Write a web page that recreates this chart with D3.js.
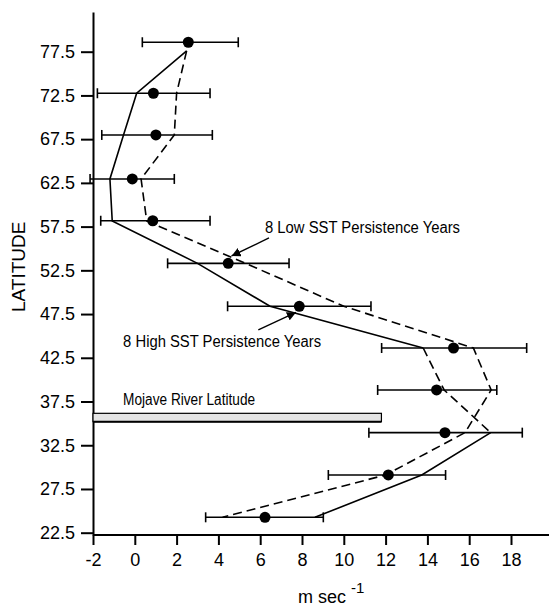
<!DOCTYPE html>
<html><head><meta charset="utf-8">
<script src="https://cdn.jsdelivr.net/npm/d3@7"></script>
<style>html,body{margin:0;padding:0;background:#fff;}svg{display:block;font-family:"Liberation Sans",Arial,Helvetica,sans-serif;}</style>
</head><body>
<svg id="c" width="549" height="606"></svg>
<script>
// Latitude rows of the profiles
const rowLat   = [77.6, 72.75, 67.98, 62.95, 58.14, 53.3, 48.39, 43.62, 38.82, 33.94, 29.1, 24.26];
const meanLat  = [78.58, 72.75, 67.98, 62.95, 58.17, 53.3, 48.39, 43.62, 38.82, 33.94, 29.1, 24.26];
// 8 High SST persistence years (solid)
const highSST  = [2.48, 0.09, -0.54, -1.19, -1.08, 3.0, 6.47, 13.8, 14.8, 17.03, 13.73, 8.62];
// 8 Low SST persistence years (dashed)
const lowSST   = [2.48, 2.0, 1.89, 0.3, 0.57, 5.3, 10.0, 16.2, 17.05, 15.8, 12.0, 4.2];
// Mean and error bars
const meanVal  = [2.56, 0.89, 1.01, -0.12, 0.86, 4.47, 7.87, 15.25, 14.44, 14.84, 12.13, 6.23];
const errLow   = [0.36, -1.79, -1.58, -2.14, -1.63, 1.57, 4.44, 11.81, 11.62, 11.2, 9.26, 3.39];
const errHigh  = [4.95, 3.6, 3.71, 1.89, 3.6, 7.38, 11.3, 18.75, 17.32, 18.54, 14.87, 9.02];
const xTicks   = [-2, 0, 2, 4, 6, 8, 10, 12, 14, 16, 18];
const yTicks   = [22.5, 27.5, 32.5, 37.5, 42.5, 47.5, 52.5, 57.5, 62.5, 67.5, 72.5, 77.5];
const mojave   = {lat0: 35.2, lat1: 36.15, v0: -2, v1: 11.8, label: "Mojave River Latitude", v: -0.56, lat: 37.1};
const lowLabel = {text: "8 Low SST Persistence Years", v: 6.23, lat: 56.76, tail: [6.42, 56.2], tip: [4.63, 54.14]};
const highLabel= {text: "8 High SST Persistence Years", v: -0.56, lat: 43.77, tail: [5.91, 45.68], tip: [7.71, 47.68]};

const svg = d3.select("#c");
const x = d3.scaleLinear().domain([-2, 18]).range([93, 511]);
const y0 = d3.scaleLinear().domain([22.5, 77.5]).range([532.7, 51.7]);
const y = d3.scaleLinear().domain([y0.invert(535), y0.invert(12)]).range([535, 12]);

// axes
const yAxis = d3.axisLeft(y).tickValues(yTicks).tickSize(12).tickPadding(6).tickFormat(d3.format(".1f")).tickSizeOuter(0);
const gy = svg.append("g").attr("transform", `translate(${x(-2)},0)`).call(yAxis);
const xAxis = d3.axisBottom(x).tickValues(xTicks).tickSize(10).tickPadding(8).tickFormat(d => String(d)).tickSizeOuter(0);
const gx = svg.append("g").attr("transform", `translate(0,${y.range()[0]})`).call(xAxis);
gx.select(".domain").attr("d", `M${x(-2)},0H549`);
[gx, gy].forEach(g => {
  g.select(".domain").attr("stroke", "#000").attr("stroke-width", 2);
  g.selectAll(".tick line").attr("stroke", "#000").attr("stroke-width", 2);
  g.selectAll(".tick text").attr("font-size", 18).attr("fill", "#000").attr("font-family", "Liberation Sans, Arial, sans-serif");
});

// axis titles
svg.append("text").attr("transform", `translate(25,${y(52.9)}) rotate(-90)`).attr("text-anchor", "middle")
  .attr("font-size", 19).text("LATITUDE");
const xt = svg.append("text").attr("x", 298).attr("y", 603).attr("font-size", 18);
xt.append("tspan").text("m sec ");
xt.append("tspan").attr("dy", -10).attr("font-size", 15).text("-1");

// Mojave bar
svg.append("rect").attr("x", x(mojave.v0)).attr("y", y(mojave.lat1))
  .attr("width", x(mojave.v1) - x(mojave.v0)).attr("height", y(mojave.lat0) - y(mojave.lat1))
  .attr("fill", "#e4e4e4").attr("stroke", "#000").attr("stroke-width", 1.2);
svg.append("line").attr("x1", x(mojave.v0)).attr("x2", x(mojave.v1)).attr("y1", y(mojave.lat0)).attr("y2", y(mojave.lat0))
  .attr("stroke", "#000").attr("stroke-width", 2);
svg.append("text").attr("x", x(mojave.v)).attr("y", y(mojave.lat)).attr("font-size", 16)
  .attr("textLength", 132).attr("lengthAdjust", "spacingAndGlyphs").text(mojave.label);

// lines
const line = d3.line().x(d => x(d[0])).y(d => y(d[1]));
const hiPts = highSST.map((v, i) => [v, rowLat[i]]);
const loPts = lowSST.map((v, i) => [v, rowLat[i]]);
svg.append("path").attr("d", line(hiPts.slice(0, 8))).attr("fill", "none").attr("stroke", "#000").attr("stroke-width", 1.6);
svg.append("path").attr("d", line(hiPts.slice(7, 10))).attr("fill", "none").attr("stroke", "#000").attr("stroke-width", 1.6).attr("stroke-dasharray", "9,5");
svg.append("path").attr("d", line(hiPts.slice(9))).attr("fill", "none").attr("stroke", "#000").attr("stroke-width", 1.6);
svg.append("path").attr("d", line(loPts)).attr("fill", "none").attr("stroke", "#000").attr("stroke-width", 1.6).attr("stroke-dasharray", "9,5");

// error bars + means
const eb = svg.append("g");
meanVal.forEach((m, i) => {
  const yy = y(meanLat[i]);
  eb.append("line").attr("x1", x(errLow[i])).attr("x2", x(errHigh[i])).attr("y1", yy).attr("y2", yy).attr("stroke", "#000").attr("stroke-width", 1.6);
  [errLow[i], errHigh[i]].forEach(v => eb.append("line").attr("x1", x(v)).attr("x2", x(v)).attr("y1", yy - 5).attr("y2", yy + 5).attr("stroke", "#000").attr("stroke-width", 1.6));
  eb.append("circle").attr("cx", x(m)).attr("cy", yy).attr("r", 5.5).attr("fill", "#000");
});

// annotations
svg.append("defs").append("marker").attr("id", "ah").attr("viewBox", "0 0 10 10").attr("refX", 10).attr("refY", 5)
  .attr("markerWidth", 9).attr("markerHeight", 9).attr("markerUnits", "userSpaceOnUse").attr("orient", "auto")
  .append("path").attr("d", "M0,0L10,5L0,10Z").attr("fill", "#000");
[[lowLabel, 195], [highLabel, 198]].forEach(([a, w]) => {
  svg.append("text").attr("x", x(a.v)).attr("y", y(a.lat)).attr("font-size", 16)
    .attr("textLength", w).attr("lengthAdjust", "spacingAndGlyphs").text(a.text);
  svg.append("line").attr("x1", x(a.tail[0])).attr("y1", y(a.tail[1])).attr("x2", x(a.tip[0])).attr("y2", y(a.tip[1]))
    .attr("stroke", "#000").attr("stroke-width", 1.4).attr("marker-end", "url(#ah)");
});
</script>
</body></html>
